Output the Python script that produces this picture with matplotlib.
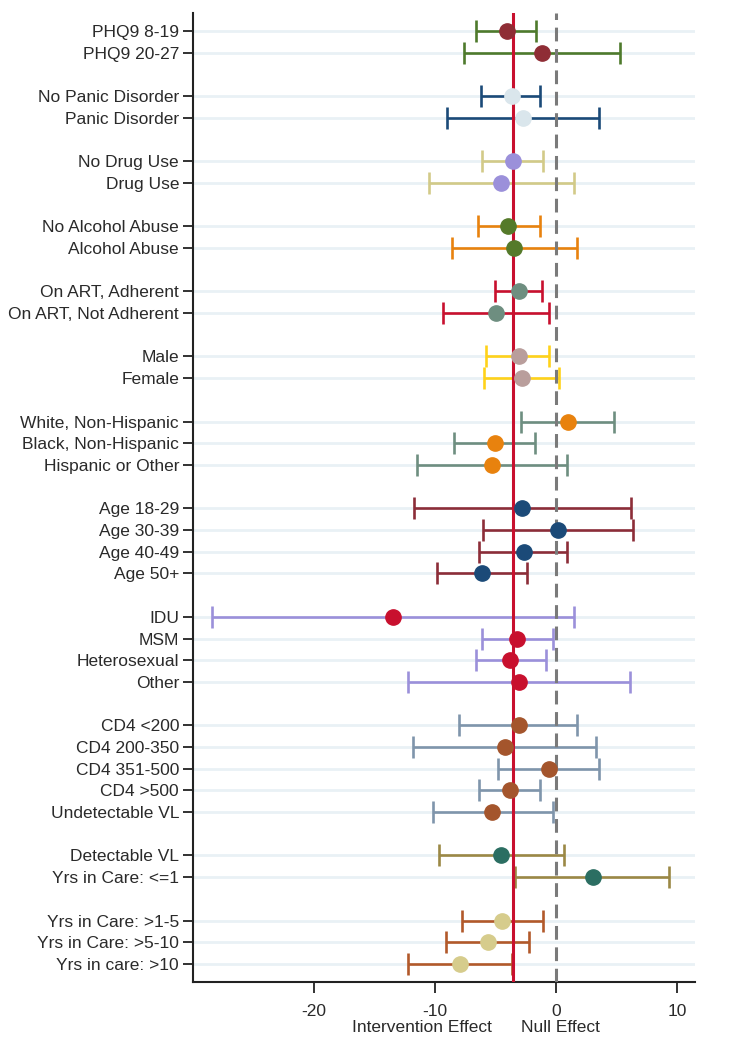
import matplotlib
matplotlib.use("Agg")
import matplotlib.pyplot as plt
from matplotlib.transforms import blended_transform_factory

plt.rcParams['font.family'] = ['Liberation Sans', 'DejaVu Sans']

labels = ["PHQ9 8-19", "PHQ9 20-27",
          "No Panic Disorder", "Panic Disorder",
          "No Drug Use", "Drug Use",
          "No Alcohol Abuse", "Alcohol Abuse",
          "On ART, Adherent", "On ART, Not Adherent",
          "Male", "Female",
          "White, Non-Hispanic", "Black, Non-Hispanic", "Hispanic or Other",
          "Age 18-29", "Age 30-39", "Age 40-49", "Age 50+",
          "IDU", "MSM", "Heterosexual", "Other",
          "CD4 <200", "CD4 200-350", "CD4 351-500", "CD4 >500", "Undetectable VL",
          "Detectable VL", "Yrs in Care: <=1",
          "Yrs in Care: >1-5", "Yrs in Care: >5-10", "Yrs in care: >10"]
group_sizes = [2, 2, 2, 2, 2, 2, 3, 4, 4, 5, 2, 3]

estimate = [-4.1, -1.15, -3.68, -2.72, -3.54, -4.53, -3.96, -3.49, -3.1, -4.97,
            -3.1, -2.8, 0.94, -5.08, -5.3, -2.8, 0.17, -2.66, -6.1,
            -13.49, -3.21, -3.79, -3.1, -3.1, -4.23, -0.63, -3.85, -5.3,
            -4.53, 3.03, -4.48, -5.66, -7.97]
lower = [-6.65, -7.6, -6.2, -9.04, -6.1, -10.55, -6.5, -8.65, -5.08, -9.4,
         -5.77, -5.99, -2.91, -8.49, -11.48, -11.73, -6.04, -6.35, -9.84,
         -28.47, -6.13, -6.65, -12.25, -8.0, -11.87, -4.83, -6.4, -10.22,
         -9.73, -3.4, -7.75, -9.12, -12.25]
upper = [-1.65, 5.25, -1.34, 3.55, -1.1, 1.46, -1.34, 1.73, -1.2, -0.58,
         -0.6, 0.22, 4.73, -1.73, 0.91, 6.16, 6.35, 0.91, -2.39,
         1.46, -0.27, -0.88, 6.08, 1.73, 3.3, 3.52, -1.34, -0.27,
         0.61, 9.29, -1.12, -2.22, -3.65]

ci_colors = ["#4e7a2c", "#1b4a78", "#d2ca88", "#e8820e", "#c8102e", "#ffd21a",
             "#6e8e80", "#8c2d38", "#9b90da", "#7f95ab", "#9b8845", "#b2592a"]
pt_colors = ["#8f2d35", "#dae6ec", "#9b90da", "#557a2a", "#6e8e80", "#b99e9c",
             "#e8820e", "#1b4a78", "#c8102e", "#a4552c", "#2b6e62", "#d6cc8c"]

overall_effect = -3.6
null_effect = 0.0

fig = plt.figure(figsize=(7.55, 10.5), dpi=100)
ax = fig.add_axes([0.2556, 0.0648, 0.665, 0.9228])

ypos = []
y = 0
for g in group_sizes:
    for i in range(g):
        ypos.append(y)
        y += 1
    y += 1

for yy in ypos:
    ax.axhline(yy, color="#e9f1f5", lw=2, zorder=0)

ax.axvline(null_effect, color="#7a7a7a", lw=2.2, ls=(0, (4.5, 2.5)), zorder=3)
ax.axvline(overall_effect, color="#c8102e", lw=2.2, zorder=4)

idx = 0
for gi, g in enumerate(group_sizes):
    for i in range(g):
        k = idx + i
        ax.errorbar(estimate[k], ypos[k],
                    xerr=[[estimate[k] - lower[k]], [upper[k] - estimate[k]]],
                    fmt="none", ecolor=ci_colors[gi], elinewidth=1.9,
                    capsize=8, capthick=1.9, zorder=2)
        ax.plot(estimate[k], ypos[k], "o", color=pt_colors[gi], ms=11,
                mec=pt_colors[gi], zorder=5)
    idx += g

ax.set_ylim(ypos[-1] + 0.83, -0.83)
ax.set_xlim(-30, 11.45)
ax.set_yticks(ypos)
ax.set_yticklabels(labels, fontsize=12.5, color="#2a2a2a")
ax.set_xticks([-20, -10, 0, 10])
ax.set_xticklabels(["-20", "-10", "0", "10"], fontsize=12.5, color="#2a2a2a")
ax.tick_params(axis="y", length=7.5, width=1.3, pad=2.5, color="#222222")
ax.tick_params(axis="x", length=8, width=1.3, pad=8, color="#222222")
for s in ["top", "right"]:
    ax.spines[s].set_visible(False)
for s in ["left", "bottom"]:
    ax.spines[s].set_linewidth(1.5)
    ax.spines[s].set_color("#222222")

tr = blended_transform_factory(ax.transData, fig.transFigure)
ax.text(-11.1, 1 - 1027 / 1050, "Intervention Effect", transform=tr,
        ha="center", va="center", fontsize=12.5, color="#2a2a2a")
ax.text(0.3, 1 - 1027 / 1050, "Null Effect", transform=tr,
        ha="center", va="center", fontsize=12.5, color="#2a2a2a")

fig.savefig("out.png", dpi=100)
